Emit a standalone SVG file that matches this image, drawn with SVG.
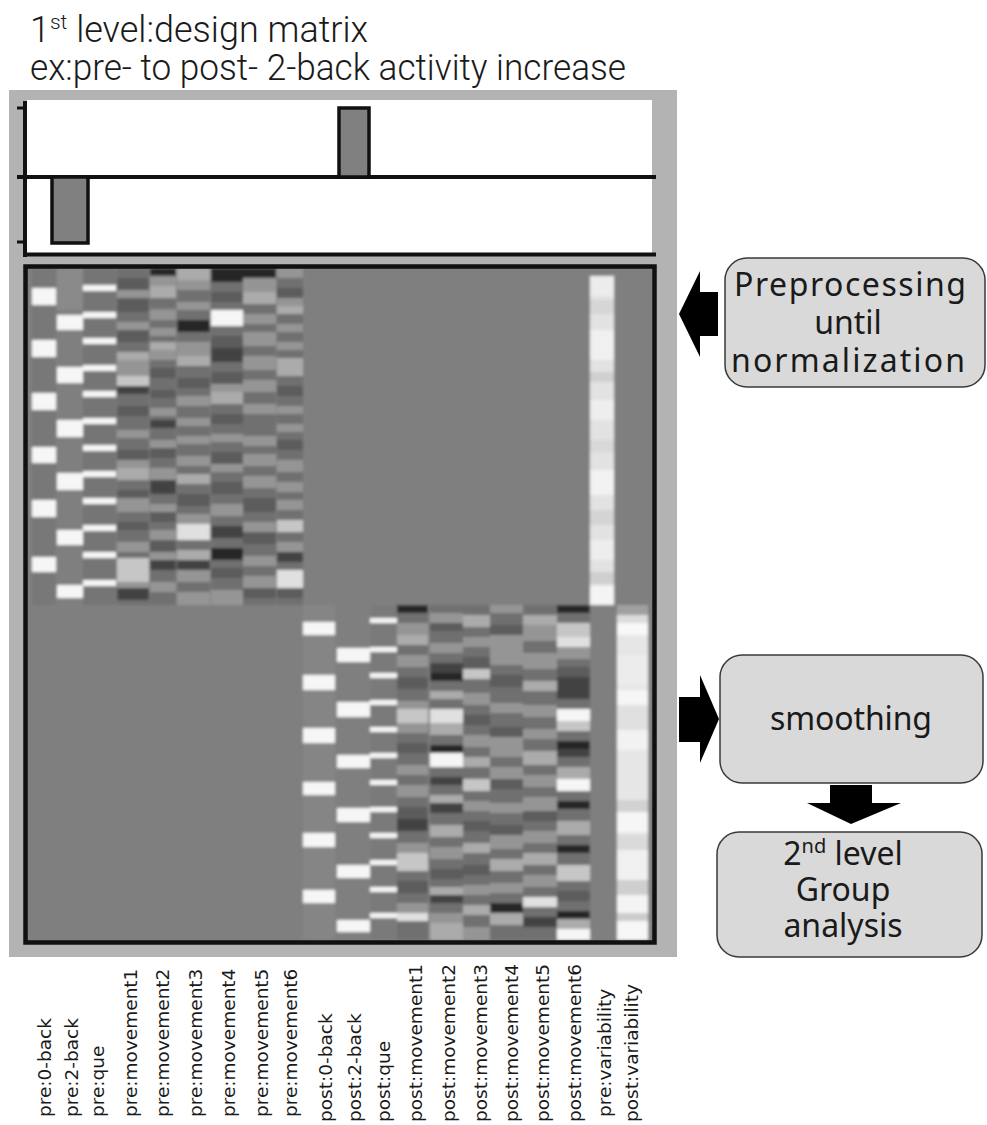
<svg xmlns="http://www.w3.org/2000/svg" width="987" height="1125" viewBox="0 0 987 1125">
<defs>
<style>
.k{fill:#262626}.a{fill:#434343}.b{fill:#5c5c5c}.c{fill:#6f6f6f}.d{fill:#959595}.e{fill:#ababab}.f{fill:#c6c6c6}.g{fill:#e0e0e0}.w{fill:#f6f6f6}
.title{font-family:Roboto,"Liberation Sans",sans-serif;font-weight:300;font-size:36px;fill:#1a1a1a}
.box{fill:#d9d9d9;stroke:#3a3a3a;stroke-width:1.5}
.bt{font-family:"Noto Sans","DejaVu Sans",sans-serif;font-size:32px;fill:#1a1a1a;text-anchor:middle}
.lbl{font-family:"DejaVu Sans","Noto Sans",sans-serif;font-size:18.5px;fill:#1a1a1a}
.arrow{fill:#000}
.ln{stroke:#111;fill:none}
</style>
<filter id="soft" x="-2%" y="-2%" width="104%" height="104%"><feGaussianBlur stdDeviation="1.6"/></filter>
<clipPath id="mclip"><rect x="27" y="268" width="626" height="673"/></clipPath>
</defs>
<rect width="987" height="1125" fill="#fff"/>

<g id="title">
<text class="title" x="30" y="42">1<tspan font-size="21" dy="-13">st</tspan><tspan dy="13"> level:design matrix</tspan></text>
<text class="title" x="30" y="80" textLength="596" lengthAdjust="spacingAndGlyphs">ex:pre- to post- 2-back activity increase</text>
</g>

<g id="design-matrix">
<rect x="9" y="90" width="668" height="867" fill="#b3b3b3"/>
<g id="contrast">
<rect x="27" y="100" width="625" height="154" fill="#fff"/>
<line class="ln" x1="25" y1="101" x2="25" y2="257" stroke-width="4"/>
<line class="ln" x1="17" y1="108" x2="25" y2="108" stroke-width="3"/>
<line class="ln" x1="17" y1="242" x2="25" y2="242" stroke-width="3"/>
<line class="ln" x1="17" y1="177" x2="656" y2="177" stroke-width="4"/>
<line class="ln" x1="25" y1="254.5" x2="656" y2="254.5" stroke-width="4"/>
<rect x="52" y="177" width="36" height="66" fill="#808080" stroke="#111" stroke-width="3.5"/>
<rect x="339" y="108" width="30" height="69" fill="#808080" stroke="#111" stroke-width="3.5"/>
</g>
<g id="matrix-cells" clip-path="url(#mclip)">
<g filter="url(#soft)">
<rect x="20" y="260" width="640" height="690" fill="#7f7f7f"/>
<rect x="32" y="268" width="24" height="337" fill="#787878"/>
<rect x="57" y="268" width="26" height="42" fill="#8a8a8a"/>
<rect x="83" y="268" width="33" height="337" fill="#747474"/>
<rect x="32" y="288" width="24" height="17" class="w"/>
<rect x="32" y="340" width="24" height="17" class="w"/>
<rect x="32" y="393" width="24" height="17" class="w"/>
<rect x="32" y="447" width="24" height="16" class="w"/>
<rect x="32" y="500" width="24" height="17" class="w"/>
<rect x="32" y="557" width="24" height="15" class="w"/>
<rect x="57" y="315" width="26" height="15" class="w"/>
<rect x="57" y="367" width="26" height="16" class="w"/>
<rect x="57" y="420" width="26" height="17" class="w"/>
<rect x="57" y="473" width="26" height="17" class="w"/>
<rect x="57" y="530" width="26" height="15" class="w"/>
<rect x="57" y="585" width="26" height="13" class="w"/>
<rect x="83" y="285" width="33" height="6" class="w"/>
<rect x="83" y="312" width="33" height="6" class="w"/>
<rect x="83" y="338" width="33" height="6" class="w"/>
<rect x="83" y="365" width="33" height="6" class="w"/>
<rect x="83" y="391" width="33" height="6" class="w"/>
<rect x="83" y="418" width="33" height="6" class="w"/>
<rect x="83" y="445" width="33" height="6" class="w"/>
<rect x="83" y="471" width="33" height="6" class="w"/>
<rect x="83" y="498" width="33" height="6" class="w"/>
<rect x="83" y="525" width="33" height="6" class="w"/>
<rect x="83" y="552" width="33" height="6" class="w"/>
<rect x="83" y="580" width="33" height="6" class="w"/>
<rect x="117" y="268" width="32" height="10" class="c"/><rect x="117" y="278" width="32" height="12" class="b"/><rect x="117" y="290" width="32" height="8" class="d"/><rect x="117" y="298" width="32" height="14" class="b"/><rect x="117" y="312" width="32" height="10" class="c"/><rect x="117" y="322" width="32" height="8" class="d"/><rect x="117" y="330" width="32" height="12" class="b"/><rect x="117" y="342" width="32" height="10" class="c"/><rect x="117" y="352" width="32" height="8" class="e"/><rect x="117" y="360" width="32" height="16" class="d"/><rect x="117" y="376" width="32" height="10" class="f"/><rect x="117" y="386" width="32" height="8" class="a"/><rect x="117" y="394" width="32" height="12" class="c"/><rect x="117" y="406" width="32" height="10" class="b"/><rect x="117" y="416" width="32" height="14" class="c"/><rect x="117" y="430" width="32" height="8" class="d"/><rect x="117" y="438" width="32" height="12" class="c"/><rect x="117" y="450" width="32" height="10" class="b"/><rect x="117" y="460" width="32" height="8" class="d"/><rect x="117" y="468" width="32" height="12" class="e"/><rect x="117" y="480" width="32" height="10" class="c"/><rect x="117" y="490" width="32" height="8" class="b"/><rect x="117" y="498" width="32" height="14" class="d"/><rect x="117" y="512" width="32" height="10" class="c"/><rect x="117" y="522" width="32" height="8" class="b"/><rect x="117" y="530" width="32" height="12" class="c"/><rect x="117" y="542" width="32" height="10" class="d"/><rect x="117" y="552" width="32" height="6" class="c"/><rect x="117" y="558" width="32" height="24" class="f"/><rect x="117" y="582" width="32" height="6" class="d"/><rect x="117" y="588" width="32" height="12" class="a"/><rect x="117" y="600" width="32" height="5" class="c"/>
<rect x="150" y="268" width="26" height="8" class="k"/><rect x="150" y="276" width="26" height="10" class="d"/><rect x="150" y="286" width="26" height="12" class="e"/><rect x="150" y="298" width="26" height="10" class="c"/><rect x="150" y="310" width="26" height="10" class="d"/><rect x="150" y="320" width="26" height="8" class="c"/><rect x="150" y="328" width="26" height="8" class="d"/><rect x="150" y="336" width="26" height="6" class="c"/><rect x="150" y="342" width="26" height="8" class="e"/><rect x="150" y="350" width="26" height="10" class="d"/><rect x="150" y="360" width="26" height="8" class="c"/><rect x="150" y="368" width="26" height="10" class="b"/><rect x="150" y="378" width="26" height="12" class="c"/><rect x="150" y="390" width="26" height="8" class="b"/><rect x="150" y="398" width="26" height="10" class="c"/><rect x="150" y="408" width="26" height="8" class="d"/><rect x="150" y="416" width="26" height="4" class="c"/><rect x="150" y="420" width="26" height="8" class="a"/><rect x="150" y="428" width="26" height="12" class="c"/><rect x="150" y="440" width="26" height="8" class="d"/><rect x="150" y="448" width="26" height="10" class="b"/><rect x="150" y="458" width="26" height="10" class="c"/><rect x="150" y="468" width="26" height="12" class="d"/><rect x="150" y="480" width="26" height="14" class="a"/><rect x="150" y="494" width="26" height="10" class="c"/><rect x="150" y="504" width="26" height="8" class="d"/><rect x="150" y="512" width="26" height="10" class="b"/><rect x="150" y="522" width="26" height="8" class="c"/><rect x="150" y="530" width="26" height="10" class="d"/><rect x="150" y="540" width="26" height="12" class="b"/><rect x="150" y="552" width="26" height="8" class="d"/><rect x="150" y="560" width="26" height="10" class="a"/><rect x="150" y="570" width="26" height="12" class="c"/><rect x="150" y="582" width="26" height="10" class="d"/><rect x="150" y="592" width="26" height="13" class="c"/>
<rect x="177" y="268" width="33" height="12" class="e"/><rect x="177" y="280" width="33" height="10" class="d"/><rect x="177" y="290" width="33" height="12" class="c"/><rect x="177" y="302" width="33" height="8" class="d"/><rect x="177" y="310" width="33" height="10" class="c"/><rect x="177" y="320" width="33" height="12" class="k"/><rect x="177" y="332" width="33" height="10" class="c"/><rect x="177" y="342" width="33" height="14" class="d"/><rect x="177" y="356" width="33" height="10" class="e"/><rect x="177" y="366" width="33" height="12" class="c"/><rect x="177" y="378" width="33" height="10" class="b"/><rect x="177" y="388" width="33" height="8" class="c"/><rect x="177" y="396" width="33" height="10" class="d"/><rect x="177" y="406" width="33" height="12" class="c"/><rect x="177" y="418" width="33" height="8" class="d"/><rect x="177" y="426" width="33" height="10" class="c"/><rect x="177" y="436" width="33" height="8" class="d"/><rect x="177" y="444" width="33" height="12" class="c"/><rect x="177" y="456" width="33" height="10" class="d"/><rect x="177" y="466" width="33" height="8" class="c"/><rect x="177" y="474" width="33" height="10" class="e"/><rect x="177" y="484" width="33" height="10" class="c"/><rect x="177" y="494" width="33" height="12" class="b"/><rect x="177" y="506" width="33" height="8" class="c"/><rect x="177" y="514" width="33" height="10" class="d"/><rect x="177" y="524" width="33" height="16" class="g"/><rect x="177" y="540" width="33" height="10" class="c"/><rect x="177" y="550" width="33" height="10" class="e"/><rect x="177" y="560" width="33" height="10" class="a"/><rect x="177" y="570" width="33" height="12" class="d"/><rect x="177" y="582" width="33" height="10" class="c"/><rect x="177" y="592" width="33" height="13" class="d"/>
<rect x="211" y="268" width="32" height="14" class="k"/><rect x="211" y="282" width="32" height="10" class="c"/><rect x="211" y="292" width="32" height="10" class="b"/><rect x="211" y="302" width="32" height="8" class="c"/><rect x="211" y="310" width="32" height="16" class="w"/><rect x="211" y="326" width="32" height="10" class="c"/><rect x="211" y="336" width="32" height="12" class="b"/><rect x="211" y="348" width="32" height="14" class="a"/><rect x="211" y="362" width="32" height="10" class="c"/><rect x="211" y="372" width="32" height="12" class="b"/><rect x="211" y="384" width="32" height="8" class="d"/><rect x="211" y="392" width="32" height="12" class="e"/><rect x="211" y="404" width="32" height="10" class="c"/><rect x="211" y="414" width="32" height="10" class="b"/><rect x="211" y="424" width="32" height="10" class="c"/><rect x="211" y="434" width="32" height="8" class="d"/><rect x="211" y="442" width="32" height="10" class="c"/><rect x="211" y="452" width="32" height="12" class="b"/><rect x="211" y="464" width="32" height="8" class="d"/><rect x="211" y="472" width="32" height="10" class="c"/><rect x="211" y="482" width="32" height="12" class="b"/><rect x="211" y="494" width="32" height="10" class="c"/><rect x="211" y="504" width="32" height="12" class="d"/><rect x="211" y="516" width="32" height="10" class="c"/><rect x="211" y="526" width="32" height="12" class="a"/><rect x="211" y="538" width="32" height="10" class="c"/><rect x="211" y="548" width="32" height="12" class="k"/><rect x="211" y="560" width="32" height="8" class="c"/><rect x="211" y="568" width="32" height="10" class="b"/><rect x="211" y="578" width="32" height="12" class="c"/><rect x="211" y="590" width="32" height="15" class="d"/>
<rect x="243" y="268" width="33" height="10" class="k"/><rect x="243" y="278" width="33" height="14" class="d"/><rect x="243" y="292" width="33" height="12" class="e"/><rect x="243" y="304" width="33" height="10" class="c"/><rect x="243" y="314" width="33" height="10" class="d"/><rect x="243" y="324" width="33" height="8" class="c"/><rect x="243" y="332" width="33" height="14" class="d"/><rect x="243" y="346" width="33" height="10" class="c"/><rect x="243" y="356" width="33" height="14" class="d"/><rect x="243" y="370" width="33" height="10" class="c"/><rect x="243" y="380" width="33" height="12" class="d"/><rect x="243" y="392" width="33" height="12" class="c"/><rect x="243" y="404" width="33" height="10" class="d"/><rect x="243" y="414" width="33" height="22" class="c"/><rect x="243" y="436" width="33" height="10" class="d"/><rect x="243" y="446" width="33" height="8" class="c"/><rect x="243" y="454" width="33" height="12" class="d"/><rect x="243" y="466" width="33" height="10" class="c"/><rect x="243" y="476" width="33" height="12" class="d"/><rect x="243" y="488" width="33" height="10" class="c"/><rect x="243" y="498" width="33" height="14" class="b"/><rect x="243" y="512" width="33" height="10" class="c"/><rect x="243" y="522" width="33" height="10" class="d"/><rect x="243" y="532" width="33" height="12" class="b"/><rect x="243" y="544" width="33" height="12" class="c"/><rect x="243" y="556" width="33" height="10" class="d"/><rect x="243" y="566" width="33" height="10" class="c"/><rect x="243" y="576" width="33" height="12" class="d"/><rect x="243" y="588" width="33" height="10" class="b"/><rect x="243" y="598" width="33" height="7" class="c"/>
<rect x="277" y="268" width="26" height="10" class="d"/><rect x="277" y="278" width="26" height="10" class="c"/><rect x="277" y="288" width="26" height="10" class="b"/><rect x="277" y="298" width="26" height="8" class="d"/><rect x="277" y="306" width="26" height="8" class="e"/><rect x="277" y="314" width="26" height="10" class="c"/><rect x="277" y="324" width="26" height="8" class="d"/><rect x="277" y="332" width="26" height="10" class="c"/><rect x="277" y="342" width="26" height="8" class="d"/><rect x="277" y="350" width="26" height="8" class="c"/><rect x="277" y="358" width="26" height="18" class="e"/><rect x="277" y="376" width="26" height="10" class="c"/><rect x="277" y="386" width="26" height="10" class="b"/><rect x="277" y="396" width="26" height="10" class="c"/><rect x="277" y="406" width="26" height="8" class="d"/><rect x="277" y="414" width="26" height="10" class="c"/><rect x="277" y="424" width="26" height="8" class="d"/><rect x="277" y="432" width="26" height="8" class="c"/><rect x="277" y="440" width="26" height="10" class="b"/><rect x="277" y="450" width="26" height="10" class="c"/><rect x="277" y="460" width="26" height="12" class="d"/><rect x="277" y="472" width="26" height="10" class="c"/><rect x="277" y="482" width="26" height="10" class="d"/><rect x="277" y="492" width="26" height="8" class="c"/><rect x="277" y="500" width="26" height="10" class="d"/><rect x="277" y="510" width="26" height="10" class="c"/><rect x="277" y="520" width="26" height="12" class="f"/><rect x="277" y="532" width="26" height="10" class="c"/><rect x="277" y="542" width="26" height="10" class="d"/><rect x="277" y="552" width="26" height="10" class="a"/><rect x="277" y="562" width="26" height="8" class="c"/><rect x="277" y="570" width="26" height="18" class="g"/><rect x="277" y="588" width="26" height="10" class="b"/><rect x="277" y="598" width="26" height="7" class="c"/>
<rect x="590" y="276" width="24" height="329" fill="#e2e2e2"/>
<rect x="590" y="276" width="24" height="20" fill="#ececec"/><rect x="590" y="300" width="24" height="14" fill="#d6d6d6"/><rect x="590" y="330" width="24" height="30" fill="#f0f0f0"/><rect x="590" y="372" width="24" height="10" fill="#d0d0d0"/><rect x="590" y="400" width="24" height="20" fill="#eeeeee"/><rect x="590" y="440" width="24" height="12" fill="#d8d8d8"/><rect x="590" y="470" width="24" height="25" fill="#f2f2f2"/><rect x="590" y="510" width="24" height="15" fill="#d4d4d4"/><rect x="590" y="540" width="24" height="20" fill="#ededed"/><rect x="590" y="572" width="24" height="12" fill="#cfcfcf"/><rect x="590" y="586" width="24" height="19" fill="#f4f4f4"/>
<rect x="303" y="605" width="32" height="335" fill="#858585"/>
<rect x="370" y="605" width="27" height="335" fill="#7a7a7a"/>
<rect x="303" y="622" width="32" height="13" class="w"/>
<rect x="303" y="675" width="32" height="15" class="w"/>
<rect x="303" y="728" width="32" height="15" class="w"/>
<rect x="303" y="782" width="32" height="13" class="w"/>
<rect x="303" y="833" width="32" height="14" class="w"/>
<rect x="303" y="890" width="32" height="13" class="w"/>
<rect x="337" y="648" width="33" height="14" class="w"/>
<rect x="337" y="702" width="33" height="15" class="w"/>
<rect x="337" y="755" width="33" height="13" class="w"/>
<rect x="337" y="808" width="33" height="14" class="w"/>
<rect x="337" y="865" width="33" height="13" class="w"/>
<rect x="337" y="920" width="33" height="12" class="w"/>
<rect x="370" y="618" width="27" height="5" class="w"/><rect x="370" y="647" width="27" height="5" class="w"/><rect x="370" y="673" width="27" height="5" class="w"/><rect x="370" y="700" width="27" height="5" class="w"/><rect x="370" y="727" width="27" height="5" class="w"/><rect x="370" y="753" width="27" height="5" class="w"/><rect x="370" y="780" width="27" height="5" class="w"/><rect x="370" y="807" width="27" height="5" class="w"/><rect x="370" y="833" width="27" height="5" class="w"/><rect x="370" y="860" width="27" height="5" class="w"/><rect x="370" y="887" width="27" height="5" class="w"/><rect x="370" y="913" width="27" height="5" class="w"/>
<rect x="397" y="605" width="31" height="8" class="k"/><rect x="397" y="613" width="31" height="10" class="c"/><rect x="397" y="623" width="31" height="12" class="d"/><rect x="397" y="635" width="31" height="10" class="e"/><rect x="397" y="645" width="31" height="10" class="c"/><rect x="397" y="655" width="31" height="12" class="d"/><rect x="397" y="667" width="31" height="10" class="c"/><rect x="397" y="677" width="31" height="12" class="b"/><rect x="397" y="689" width="31" height="12" class="c"/><rect x="397" y="701" width="31" height="8" class="d"/><rect x="397" y="709" width="31" height="14" class="f"/><rect x="397" y="723" width="31" height="10" class="d"/><rect x="397" y="733" width="31" height="10" class="c"/><rect x="397" y="743" width="31" height="10" class="b"/><rect x="397" y="753" width="31" height="12" class="c"/><rect x="397" y="765" width="31" height="10" class="d"/><rect x="397" y="775" width="31" height="10" class="c"/><rect x="397" y="785" width="31" height="12" class="d"/><rect x="397" y="797" width="31" height="10" class="c"/><rect x="397" y="807" width="31" height="12" class="b"/><rect x="397" y="819" width="31" height="12" class="a"/><rect x="397" y="831" width="31" height="12" class="c"/><rect x="397" y="843" width="31" height="10" class="d"/><rect x="397" y="853" width="31" height="18" class="f"/><rect x="397" y="871" width="31" height="10" class="c"/><rect x="397" y="881" width="31" height="12" class="b"/><rect x="397" y="893" width="31" height="10" class="c"/><rect x="397" y="903" width="31" height="10" class="d"/><rect x="397" y="913" width="31" height="8" class="g"/><rect x="397" y="921" width="31" height="19" class="c"/>
<rect x="430" y="605" width="33" height="8" class="c"/><rect x="430" y="613" width="33" height="10" class="d"/><rect x="430" y="623" width="33" height="8" class="b"/><rect x="430" y="631" width="33" height="12" class="c"/><rect x="430" y="643" width="33" height="10" class="d"/><rect x="430" y="653" width="33" height="10" class="c"/><rect x="430" y="663" width="33" height="10" class="a"/><rect x="430" y="673" width="33" height="8" class="k"/><rect x="430" y="681" width="33" height="10" class="c"/><rect x="430" y="691" width="33" height="8" class="e"/><rect x="430" y="699" width="33" height="10" class="c"/><rect x="430" y="709" width="33" height="14" class="g"/><rect x="430" y="723" width="33" height="12" class="e"/><rect x="430" y="735" width="33" height="10" class="c"/><rect x="430" y="745" width="33" height="8" class="k"/><rect x="430" y="753" width="33" height="14" class="w"/><rect x="430" y="767" width="33" height="10" class="c"/><rect x="430" y="777" width="33" height="8" class="a"/><rect x="430" y="785" width="33" height="10" class="c"/><rect x="430" y="795" width="33" height="8" class="e"/><rect x="430" y="803" width="33" height="10" class="a"/><rect x="430" y="813" width="33" height="12" class="c"/><rect x="430" y="825" width="33" height="12" class="e"/><rect x="430" y="837" width="33" height="10" class="c"/><rect x="430" y="847" width="33" height="12" class="d"/><rect x="430" y="859" width="33" height="10" class="c"/><rect x="430" y="869" width="33" height="10" class="b"/><rect x="430" y="879" width="33" height="8" class="c"/><rect x="430" y="887" width="33" height="8" class="e"/><rect x="430" y="895" width="33" height="8" class="a"/><rect x="430" y="903" width="33" height="10" class="c"/><rect x="430" y="913" width="33" height="10" class="d"/><rect x="430" y="923" width="33" height="17" class="e"/>
<rect x="463" y="605" width="27" height="10" class="c"/><rect x="463" y="615" width="27" height="12" class="e"/><rect x="463" y="627" width="27" height="10" class="c"/><rect x="463" y="637" width="27" height="10" class="d"/><rect x="463" y="647" width="27" height="10" class="c"/><rect x="463" y="657" width="27" height="12" class="b"/><rect x="463" y="669" width="27" height="10" class="f"/><rect x="463" y="679" width="27" height="14" class="c"/><rect x="463" y="693" width="27" height="12" class="d"/><rect x="463" y="705" width="27" height="10" class="c"/><rect x="463" y="715" width="27" height="10" class="b"/><rect x="463" y="725" width="27" height="10" class="c"/><rect x="463" y="735" width="27" height="12" class="d"/><rect x="463" y="747" width="27" height="10" class="c"/><rect x="463" y="757" width="27" height="10" class="e"/><rect x="463" y="767" width="27" height="12" class="c"/><rect x="463" y="779" width="27" height="12" class="f"/><rect x="463" y="791" width="27" height="10" class="c"/><rect x="463" y="801" width="27" height="10" class="d"/><rect x="463" y="811" width="27" height="10" class="c"/><rect x="463" y="821" width="27" height="10" class="b"/><rect x="463" y="831" width="27" height="12" class="c"/><rect x="463" y="843" width="27" height="10" class="e"/><rect x="463" y="853" width="27" height="12" class="c"/><rect x="463" y="865" width="27" height="10" class="b"/><rect x="463" y="875" width="27" height="10" class="c"/><rect x="463" y="885" width="27" height="10" class="d"/><rect x="463" y="895" width="27" height="10" class="c"/><rect x="463" y="905" width="27" height="10" class="e"/><rect x="463" y="915" width="27" height="12" class="c"/><rect x="463" y="927" width="27" height="13" class="d"/>
<rect x="490" y="605" width="33" height="8" class="d"/><rect x="490" y="613" width="33" height="12" class="c"/><rect x="490" y="625" width="33" height="10" class="b"/><rect x="490" y="635" width="33" height="30" class="d"/><rect x="490" y="665" width="33" height="10" class="c"/><rect x="490" y="675" width="33" height="12" class="b"/><rect x="490" y="687" width="33" height="16" class="c"/><rect x="490" y="703" width="33" height="10" class="d"/><rect x="490" y="713" width="33" height="14" class="c"/><rect x="490" y="727" width="33" height="10" class="b"/><rect x="490" y="737" width="33" height="20" class="d"/><rect x="490" y="757" width="33" height="10" class="c"/><rect x="490" y="767" width="33" height="12" class="d"/><rect x="490" y="779" width="33" height="10" class="b"/><rect x="490" y="789" width="33" height="14" class="c"/><rect x="490" y="803" width="33" height="10" class="d"/><rect x="490" y="813" width="33" height="12" class="c"/><rect x="490" y="825" width="33" height="10" class="b"/><rect x="490" y="835" width="33" height="14" class="d"/><rect x="490" y="849" width="33" height="10" class="c"/><rect x="490" y="859" width="33" height="12" class="e"/><rect x="490" y="871" width="33" height="12" class="c"/><rect x="490" y="883" width="33" height="10" class="d"/><rect x="490" y="893" width="33" height="10" class="c"/><rect x="490" y="903" width="33" height="10" class="k"/><rect x="490" y="913" width="33" height="12" class="e"/><rect x="490" y="925" width="33" height="15" class="c"/>
<rect x="523" y="605" width="34" height="10" class="c"/><rect x="523" y="615" width="34" height="10" class="e"/><rect x="523" y="625" width="34" height="16" class="d"/><rect x="523" y="641" width="34" height="12" class="c"/><rect x="523" y="653" width="34" height="16" class="d"/><rect x="523" y="669" width="34" height="12" class="c"/><rect x="523" y="681" width="34" height="10" class="e"/><rect x="523" y="691" width="34" height="14" class="c"/><rect x="523" y="705" width="34" height="12" class="d"/><rect x="523" y="717" width="34" height="12" class="c"/><rect x="523" y="729" width="34" height="10" class="d"/><rect x="523" y="739" width="34" height="12" class="c"/><rect x="523" y="751" width="34" height="14" class="e"/><rect x="523" y="765" width="34" height="10" class="c"/><rect x="523" y="775" width="34" height="12" class="d"/><rect x="523" y="787" width="34" height="10" class="c"/><rect x="523" y="797" width="34" height="14" class="d"/><rect x="523" y="811" width="34" height="10" class="b"/><rect x="523" y="821" width="34" height="10" class="c"/><rect x="523" y="831" width="34" height="12" class="d"/><rect x="523" y="843" width="34" height="10" class="c"/><rect x="523" y="853" width="34" height="12" class="e"/><rect x="523" y="865" width="34" height="10" class="c"/><rect x="523" y="875" width="34" height="12" class="d"/><rect x="523" y="887" width="34" height="10" class="c"/><rect x="523" y="897" width="34" height="10" class="g"/><rect x="523" y="907" width="34" height="10" class="c"/><rect x="523" y="917" width="34" height="10" class="a"/><rect x="523" y="927" width="34" height="13" class="c"/>
<rect x="557" y="605" width="33" height="8" class="k"/><rect x="557" y="613" width="33" height="10" class="c"/><rect x="557" y="623" width="33" height="14" class="f"/><rect x="557" y="637" width="33" height="10" class="g"/><rect x="557" y="647" width="33" height="12" class="d"/><rect x="557" y="659" width="33" height="8" class="c"/><rect x="557" y="667" width="33" height="10" class="b"/><rect x="557" y="677" width="33" height="22" class="a"/><rect x="557" y="699" width="33" height="10" class="c"/><rect x="557" y="709" width="33" height="12" class="w"/><rect x="557" y="721" width="33" height="10" class="f"/><rect x="557" y="731" width="33" height="10" class="c"/><rect x="557" y="741" width="33" height="8" class="k"/><rect x="557" y="749" width="33" height="8" class="a"/><rect x="557" y="757" width="33" height="10" class="c"/><rect x="557" y="767" width="33" height="12" class="e"/><rect x="557" y="779" width="33" height="12" class="w"/><rect x="557" y="791" width="33" height="10" class="c"/><rect x="557" y="801" width="33" height="8" class="k"/><rect x="557" y="809" width="33" height="12" class="c"/><rect x="557" y="821" width="33" height="14" class="e"/><rect x="557" y="835" width="33" height="10" class="c"/><rect x="557" y="845" width="33" height="8" class="k"/><rect x="557" y="853" width="33" height="12" class="c"/><rect x="557" y="865" width="33" height="16" class="f"/><rect x="557" y="881" width="33" height="10" class="c"/><rect x="557" y="891" width="33" height="10" class="b"/><rect x="557" y="901" width="33" height="10" class="c"/><rect x="557" y="911" width="33" height="8" class="k"/><rect x="557" y="919" width="33" height="10" class="e"/><rect x="557" y="929" width="33" height="11" class="w"/>
<rect x="617" y="605" width="31" height="335" fill="#e6e6e6"/>
<rect x="617" y="605" width="31" height="10" fill="#a0a0a0"/><rect x="617" y="615" width="31" height="8" fill="#dcdcdc"/><rect x="617" y="623" width="31" height="12" fill="#f8f8f8"/><rect x="617" y="655" width="31" height="30" fill="#ececec"/><rect x="617" y="690" width="31" height="15" fill="#f6f6f6"/><rect x="617" y="705" width="31" height="25" fill="#e0e0e0"/><rect x="617" y="730" width="31" height="20" fill="#f2f2f2"/><rect x="617" y="800" width="31" height="12" fill="#d2d2d2"/><rect x="617" y="812" width="31" height="20" fill="#f6f6f6"/><rect x="617" y="835" width="31" height="15" fill="#dadada"/><rect x="617" y="850" width="31" height="30" fill="#f0f0f0"/><rect x="617" y="880" width="31" height="15" fill="#cfcfcf"/><rect x="617" y="895" width="31" height="18" fill="#f4f4f4"/><rect x="617" y="913" width="31" height="8" fill="#cccccc"/><rect x="617" y="921" width="31" height="19" fill="#f7f7f7"/>
</g>
</g>
<rect x="25.5" y="266.5" width="629" height="676" fill="none" stroke="#111" stroke-width="4.5"/>
</g>

<g id="column-labels" class="lbl">
<text transform="translate(50.5,1117) rotate(-90)">pre:0-back</text>
<text transform="translate(77.5,1117) rotate(-90)">pre:2-back</text>
<text transform="translate(103.5,1117) rotate(-90)">pre:que</text>
<text transform="translate(136.5,1117) rotate(-90)">pre:movement1</text>
<text transform="translate(168.5,1117) rotate(-90)">pre:movement2</text>
<text transform="translate(201.5,1117) rotate(-90)">pre:movement3</text>
<text transform="translate(234.5,1117) rotate(-90)">pre:movement4</text>
<text transform="translate(267.5,1117) rotate(-90)">pre:movement5</text>
<text transform="translate(296.5,1117) rotate(-90)">pre:movement6</text>
<text transform="translate(331.5,1122) rotate(-90)">post:0-back</text>
<text transform="translate(360.5,1122) rotate(-90)">post:2-back</text>
<text transform="translate(389.5,1122) rotate(-90)">post:que</text>
<text transform="translate(421.5,1122) rotate(-90)">post:movement1</text>
<text transform="translate(454.5,1122) rotate(-90)">post:movement2</text>
<text transform="translate(486.5,1122) rotate(-90)">post:movement3</text>
<text transform="translate(517.5,1122) rotate(-90)">post:movement4</text>
<text transform="translate(548.5,1122) rotate(-90)">post:movement5</text>
<text transform="translate(580.5,1122) rotate(-90)">post:movement6</text>
<text transform="translate(610.5,1117) rotate(-90)">pre:variability</text>
<text transform="translate(637.5,1122) rotate(-90)">post:variability</text>
</g>

<g id="preprocessing">
<rect class="box" x="725" y="258" width="260" height="129" rx="22"/>
<text class="bt" x="850" y="296" textLength="232">Preprocessing</text>
<text class="bt" x="848" y="334">until</text>
<text class="bt" x="848" y="372" textLength="234">normalization</text>
</g>

<g id="smoothing">
<rect class="box" x="720" y="655" width="263" height="128" rx="22"/>
<text class="bt" x="851" y="730" textLength="162">smoothing</text>
</g>

<g id="second-level">
<rect class="box" x="717" y="832" width="265" height="125" rx="22"/>
<text class="bt" x="843" y="865">2<tspan font-size="20" dy="-12">nd</tspan><tspan dy="12"> level</tspan></text>
<text class="bt" x="843" y="901">Group</text>
<text class="bt" x="843" y="937">analysis</text>
</g>

<g id="connectors">
<polygon class="arrow" points="679,314 700,271 700,292 718,292 718,336 700,336 700,357"/>
<polygon class="arrow" points="679,697 700,697 700,675 719,719 700,763 700,742 679,742"/>
<polygon class="arrow" points="830,785 872,785 872,803 901,803 851,824 807,803 830,803"/>
</g>
</svg>
